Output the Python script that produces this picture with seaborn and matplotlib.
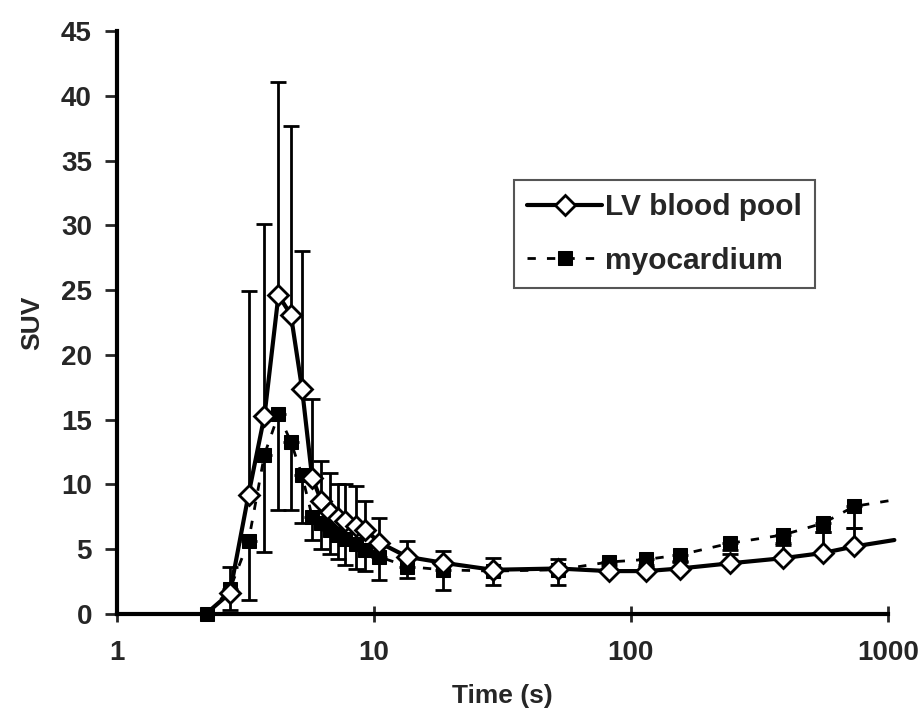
import numpy as np
import pandas as pd
import matplotlib
matplotlib.use("Agg")
import matplotlib.pyplot as plt
import seaborn as sb

# mid-frame times (s); last entry only carries the line past the final marker
time_s = [2.25, 2.75, 3.25, 3.75, 4.25, 4.75, 5.25, 5.75, 6.25, 6.75, 7.25, 7.75,
          8.5, 9.25, 10.5, 13.5, 18.5, 29, 52, 82, 115, 155, 243, 392, 560, 740, 1060]

lv_blood = [0.1, 1.6, 9.2, 15.3, 24.6, 23.1, 17.4, 10.5, 8.7, 7.9, 7.4, 7.2,
            6.8, 6.5, 5.5, 4.4, 3.95, 3.4, 3.5, 3.3, 3.3, 3.5, 3.9, 4.3, 4.7, 5.2, 5.7]
lv_upper = [0.1, 3.65, 24.9, 30.1, 41.1, 37.7, 28.0, 16.6, 11.8, 10.9, 10.0, 10.0,
            9.9, 8.7, 7.4, 5.6, 4.86, 4.3, 4.2, 3.8, 3.8, 4.0, 4.6, 5.3, 6.35, 6.65, 5.7]

myocardium = [0.0, 1.9, 5.6, 12.3, 15.4, 13.3, 10.7, 7.5, 7.0, 6.5, 6.1, 5.8,
              5.4, 4.9, 4.4, 3.65, 3.4, 3.3, 3.4, 4.0, 4.2, 4.55, 5.45, 6.1, 7.0, 8.3, 8.8]
myo_lower = [0.0, 0.3, 1.1, 4.8, 8.0, 8.0, 7.0, 5.7, 5.0, 4.6, 4.2, 3.8,
             3.5, 3.3, 2.6, 2.8, 1.85, 2.2, 2.2, 3.3, 3.6, 4.1, 4.9, 5.5, 6.3, 6.65, 8.8]

y_ticks = [0, 5, 10, 15, 20, 25, 30, 35, 40, 45]
x_ticks = [1, 10, 100, 1000]

t = np.array(time_s)
lv = np.array(lv_blood)
myo = np.array(myocardium)
n = len(t) - 1  # number of real frames with markers

sb.set_style("ticks")
plt.rcParams['font.family'] = ['Liberation Sans', 'DejaVu Sans']
plt.rcParams['font.weight'] = 'bold'

fig = plt.figure(figsize=(9.21, 7.23), dpi=100)
ax = fig.add_axes([0.127, 0.151, 0.837, 0.806])
ax.set_xscale("log")

# error bars: LV upward, myocardium downward
ax.errorbar(t[:n], lv[:n], yerr=[np.zeros(n), np.array(lv_upper[:n]) - lv[:n]],
            fmt='none', ecolor='black', elinewidth=2, capsize=6, capthick=2, zorder=2)
ax.errorbar(t[:n], myo[:n], yerr=[myo[:n] - np.array(myo_lower[:n]), np.zeros(n)],
            fmt='none', ecolor='black', elinewidth=2, capsize=6, capthick=2, zorder=2)

sb.lineplot(x=t, y=lv, ax=ax, color='black', linewidth=3,
            marker='D', markersize=10, markerfacecolor='white', markeredgecolor='black',
            markeredgewidth=2, markevery=list(range(1, n)), clip_on=False,
            label='LV blood pool', zorder=3)
sb.lineplot(x=t, y=myo, ax=ax, color='black', linewidth=2, linestyle=(0, (3, 4)),
            marker='s', markersize=10, markerfacecolor='black', markeredgecolor='black',
            markevery=list(range(n)), clip_on=False, label='myocardium', zorder=2.5)

ax.set_xlim(1, 1000)
ax.set_ylim(0, 45)
ax.set_xticks(x_ticks)
ax.set_xticklabels([str(v) for v in x_ticks])
ax.xaxis.set_minor_locator(matplotlib.ticker.NullLocator())
ax.set_yticks(y_ticks)

for s in ['top', 'right']:
    ax.spines[s].set_visible(False)
for s in ['left', 'bottom']:
    ax.spines[s].set_linewidth(3)
    ax.spines[s].set_color('black')

ax.tick_params(axis='y', direction='out', length=9, width=2, labelsize=20, pad=9)
ax.tick_params(axis='x', direction='inout', length=12, width=2, labelsize=20, pad=13)
for lab in ax.get_xticklabels() + ax.get_yticklabels():
    lab.set_fontweight('bold')

ax.set_xlabel("Time (s)", fontsize=19, fontweight='bold', labelpad=13)
ax.set_ylabel("SUV", fontsize=19, fontweight='bold', labelpad=12)

handles, labels = ax.get_legend_handles_labels()
leg = ax.legend(handles, labels, loc='upper left', borderaxespad=0,
                bbox_to_anchor=(0.515, 0.745), fontsize=21.5, frameon=True,
                fancybox=False, framealpha=1, edgecolor='#555555',
                handlelength=2.5, borderpad=0.45, labelspacing=0.85, handletextpad=0.1)
leg.get_frame().set_linewidth(1.5)
for txt in leg.get_texts():
    txt.set_fontweight('bold')

plt.savefig('out.png', dpi=100)
